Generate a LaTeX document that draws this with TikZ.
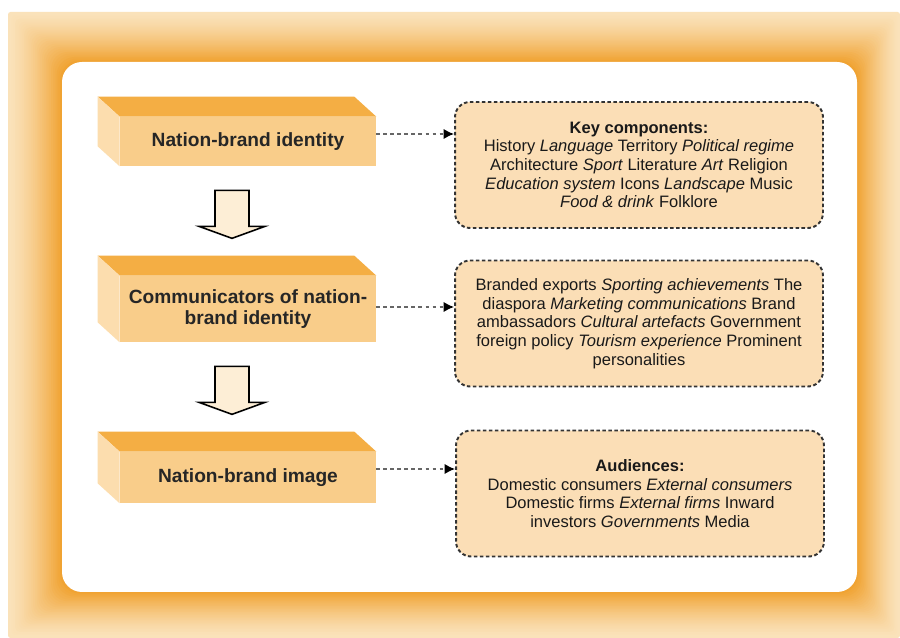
\documentclass[tikz,border=0pt]{standalone}
\usepackage{fontspec}
\setmainfont{Liberation Sans}
\usetikzlibrary{arrows.meta}

\definecolor{frameout}{RGB}{250,226,186}
\definecolor{framein}{RGB}{240,160,44}
\definecolor{topface}{RGB}{244,174,68}
\definecolor{frontface}{RGB}{249,205,138}
\definecolor{sideface}{RGB}{252,221,174}
\definecolor{notefill}{RGB}{251,222,182}
\definecolor{arrowfill}{RGB}{253,238,214}

\tikzset{
  brandbox/.style={fill=frontface, minimum width=5.12cm, inner sep=0pt, align=center,
    font=\fontsize{10.9}{12}\selectfont\bfseries, text=black!85},
  notebox/.style={draw=black!80, fill=notefill, line width=1.1pt, dash pattern=on 2pt off 1.4pt,
    rounded corners=0.3cm, minimum width=7.36cm, minimum height=2.52cm, align=center,
    font=\fontsize{9.4}{10.6}\selectfont, text=black!90},
  linkarrow/.style={draw=black!60, line width=1.1pt, dash pattern=on 2.2pt off 1.8pt,
    -{Latex[length=6pt,width=6pt,black]}},
  flowarrow/.style={draw=black, line width=0.9pt, fill=arrowfill, line join=miter},
}

% hollow down arrow under a box
\newcommand{\flowdown}[1]{%
  \draw[flowarrow] ([shift={(-16,24)}]#1.south) ++(-17,0) -- ++(34,0) -- ++(0,36)
    -- ++(16,0) -- ++(-33,12) -- ++(-33,-12) -- ++(16,0) -- cycle;}

\begin{document}
\begin{tikzpicture}[x=0.02cm, y=-0.02cm]
    \fill[white] (0,0) rectangle (900,638);

    % Orange frame, light outside, deep orange next to the panel
    \foreach \k in {0,...,30} {
        \pgfmathsetmacro{\t}{\k/30}
        \pgfmathtruncatemacro{\p}{100*\t^1.4}
        \pgfmathsetmacro{\r}{0.05+0.35*\t}
        \fill[framein!\p!frameout, rounded corners=\r cm]
            ({8+54*\t},{12+50*\t}) rectangle ({900-43*\t},{638-46*\t});
    }
    \fill[white, rounded corners=0.4cm] (62,62) rectangle (857,592);

    % Boxes on the left
    \node[brandbox, minimum height=0.98cm] (b1) at (248,141.5) {Nation-brand identity};
    \node[brandbox, minimum height=1.32cm] (b2) at (248,309)
        {Communicators of nation-\\brand identity};
    \node[brandbox, minimum height=1.02cm] (b3) at (248,477.5) {Nation-brand image};

    \foreach \b in {b1,b2,b3} {
        \fill[topface] (\b.north west) -- ++(-22,-20)
            -- ([shift={(-22,-20)}]\b.north east) -- (\b.north east) -- cycle;
        \fill[sideface] (\b.north west) -- ++(-22,-20)
            -- ([shift={(-22,-20)}]\b.south west) -- (\b.south west) -- cycle;
    }

    % Flow between the boxes
    \flowdown{b1}
    \flowdown{b2}

    % Notes on the right
    \node[notebox] (r1) at (639,165) {%
        \textbf{Key components:}\\
        History \textit{Language} Territory \textit{Political regime}\\
        Architecture \textit{Sport} Literature \textit{Art} Religion\\
        \textit{Education system} Icons \textit{Landscape} Music\\
        \textit{Food \& drink} Folklore};
    \node[notebox] (r2) at (639,323.5) {%
        Branded exports \textit{Sporting achievements} The\\
        diaspora \textit{Marketing communications} Brand\\
        ambassadors \textit{Cultural artefacts} Government\\
        foreign policy \textit{Tourism experience} Prominent\\
        personalities};
    \node[notebox] (r3) at (640,493.5) {%
        \textbf{Audiences:}\\
        Domestic consumers \textit{External consumers}\\
        Domestic firms \textit{External firms} Inward\\
        investors \textit{Governments} Media};

    % Links
    \draw[linkarrow] ([yshift=0.15cm]b1.east) -- ([yshift=0.15cm]b1.east -| r1.west);
    \draw[linkarrow] ([yshift=0.04cm]b2.east) -- ([yshift=0.04cm]b2.east -| r2.west);
    \draw[linkarrow] ([yshift=0.17cm]b3.east) -- ([yshift=0.17cm]b3.east -| r3.west);
\end{tikzpicture}
\end{document}
